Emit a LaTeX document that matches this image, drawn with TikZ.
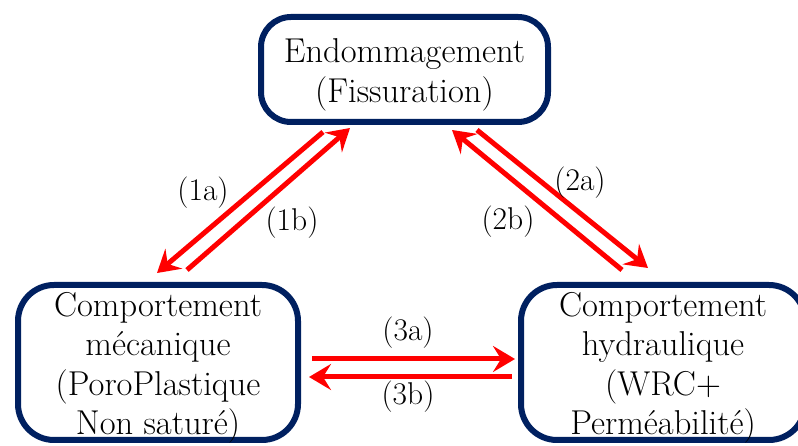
\documentclass[tikz,border=0pt]{standalone}
\usepackage{tikz}
\usetikzlibrary{arrows.meta,positioning}
\usepackage{xcolor}
\definecolor{navy}{RGB}{0,32,96}
\newcommand{\topstrut}{\rule{0pt}{35pt}}

\begin{document}
\begin{tikzpicture}[
  x=1pt, y=1pt,
  box/.style={draw=navy, line width=6pt, rounded corners=36pt, align=center, inner xsep=0pt, inner ysep=-5pt, outer sep=0pt, font=\fontsize{34.5}{39.5}\selectfont},
  arr/.style={-{Stealth[length=22pt,width=26pt,inset=8pt]}, red, line width=5pt},
  lbl/.style={font=\fontsize{31.5}{36}\selectfont}
]
\useasboundingbox (0,0) rectangle (798,446);

\node[box, rounded corners=30pt, minimum width=287pt, minimum height=105pt] (endo) at (404.5,376.5) {\topstrut Endommagement\\(Fissuration)};
\node[box, minimum width=280pt, minimum height=155pt] (meca) at (158,83.5) {\topstrut Comportement\\m\'ecanique\\(PoroPlastique\\Non satur\'e)};
\node[box, minimum width=284pt, minimum height=155pt] (hydro) at (663,83.5) {\topstrut Comportement\\hydraulique\\(WRC+\\Perm\'eabilit\'e)};

% endommagement <-> mecanique
\draw[arr] ([shift={(62,-10)}]endo.south west) -- ([shift={(-1,12)}]meca.north);
\draw[arr] ([shift={(29,15)}]meca.north) -- ([shift={(89,-6)}]endo.south west);
% endommagement <-> hydraulique
\draw[arr] ([shift={(-71,-8)}]endo.south east) -- ([shift={(-15,17)}]hydro.north);
\draw[arr] ([shift={(-41,15)}]hydro.north) -- ([shift={(-96,-8)}]endo.south east);
% mecanique <-> hydraulique
\draw[arr] ([shift={(14,3.5)}]meca.east) -- ([shift={(-6,3.5)}]hydro.west);
\draw[arr] ([shift={(-9,-14.5)}]hydro.west) -- ([shift={(11,-14.5)}]meca.east);

\node[lbl] (l1a) at (203,253) {(1a)};
\node[lbl] (l1b) at (292,223) {(1b)};
\node[lbl] (l2a) at (580,263) {(2a)};
\node[lbl] (l2b) at (508,224) {(2b)};
\node[lbl] (l3a) at (408,113) {(3a)};
\node[lbl] (l3b) at (408,49) {(3b)};

\end{tikzpicture}
\end{document}
